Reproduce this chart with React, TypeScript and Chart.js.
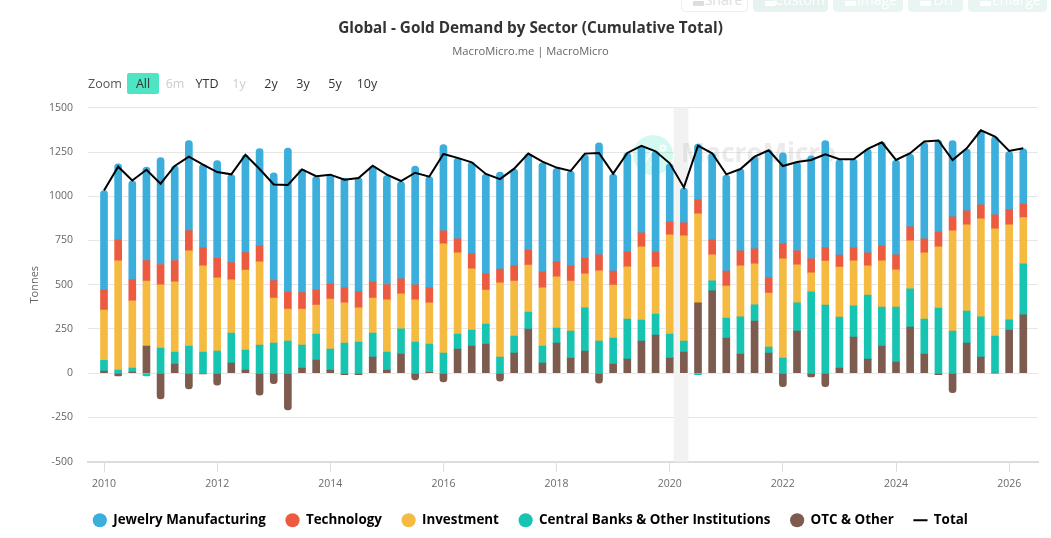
import React, { useEffect, useRef } from "react";
import { Chart, registerables } from "chart.js";

Chart.register(...registerables);

const FONT = '"Open Sans", "Noto Sans", sans-serif';

// quarter positions on the time axis, 2010 Q1 to 2026 Q2
const quarters = [
  2010, 2010.25, 2010.5, 2010.75, 2011, 2011.25, 2011.5, 2011.75,
  2012, 2012.25, 2012.5, 2012.75, 2013, 2013.25, 2013.5, 2013.75,
  2014, 2014.25, 2014.5, 2014.75, 2015, 2015.25, 2015.5, 2015.75,
  2016, 2016.25, 2016.5, 2016.75, 2017, 2017.25, 2017.5, 2017.75,
  2018, 2018.25, 2018.5, 2018.75, 2019, 2019.25, 2019.5, 2019.75,
  2020, 2020.25, 2020.5, 2020.75, 2021, 2021.25, 2021.5, 2021.75,
  2022, 2022.25, 2022.5, 2022.75, 2023, 2023.25, 2023.5, 2023.75,
  2024, 2024.25, 2024.5, 2024.75, 2025, 2025.25, 2025.5, 2025.75,
  2026, 2026.25,
];

const jewelry = [
  563, 429, 559, 529, 604, 535, 508, 472, 553, 497, 552, 550, 610, 814, 699, 642,
  618, 621, 646, 654, 616, 550, 672, 629, 487, 457, 518, 565, 548, 548, 544, 616,
  529, 536, 587, 633, 548, 559, 491, 569, 327, 196, 315, 489, 542, 463, 521, 723,
  514, 501, 582, 606, 538, 501, 586, 586, 536, 412, 544, 521, 431, 349, 419, 442,
  329, 312,
];
const technology = [
  113, 119, 119, 115, 115, 121, 115, 102, 110, 98, 98, 91, 98, 96, 93, 85,
  85, 85, 91, 91, 87, 85, 85, 85, 74, 79, 85, 91, 79, 85, 85, 91,
  85, 85, 87, 91, 79, 85, 79, 85, 74, 74, 79, 85, 85, 85, 85, 85,
  85, 79, 79, 74, 68, 74, 74, 85, 85, 79, 79, 83, 79, 79, 79, 79,
  85, 77,
];
const investment = [
  283, 618, 380, 368, 357, 397, 538, 487, 414, 300, 453, 470, 255, 181, 204, 164,
  283, 227, 193, 198, 295, 198, 238, 232, 618, 459, 346, 193, 419, 312, 266, 329,
  289, 283, 193, 397, 300, 295, 414, 266, 561, 595, 504, 147, 181, 289, 232, 306,
  561, 215, 108, 249, 283, 255, 164, 261, 210, 272, 374, 346, 567, 487, 555, 606,
  538, 261,
];
const centralBanks = [
  62, 17, 23, -15, 142, 68, 153, 119, 125, 170, 113, 159, 170, 181, 130, 147,
  119, 170, 176, 136, 102, 142, 176, 161, 113, 85, 91, 113, 91, 96, 96, 96,
  85, 153, 244, 181, 147, 227, 119, 119, 136, 62, -9, 57, 113, 210, 91, 34,
  85, 159, 459, 385, 289, 176, 363, 221, 312, 215, 198, 368, 238, 181, 227, 210,
  57, 289,
];
const otcOther = [
  11, -15, 6, 153, -145, 51, -89, -4, -68, 57, 17, -125, -60, -208, 28, 74,
  17, -8, -8, 91, 17, 108, -38, 4, -49, 136, 153, 164, -45, 113, 249, 57,
  170, 85, 125, -57, 51, 79, 181, 215, 85, 119, 397, 465, 198, 108, 295, 113,
  -77, 238, -21, -77, 28, 204, 79, 153, 62, 261, 108, -8, -111, 170, 91, 0,
  244, 329,
];
const total = [
  1033, 1167, 1089, 1150, 1071, 1171, 1224, 1179, 1137, 1124, 1235, 1154, 1067, 1064, 1152, 1113,
  1122, 1094, 1103, 1173, 1122, 1086, 1133, 1111, 1239, 1217, 1192, 1126, 1097, 1156, 1241, 1196,
  1162, 1143, 1241, 1245, 1128, 1245, 1285, 1254, 1186, 1050, 1286, 1243, 1124, 1154, 1224, 1260,
  1171, 1194, 1205, 1237, 1209, 1209, 1268, 1305, 1205, 1243, 1309, 1315, 1205, 1271, 1373, 1337,
  1256, 1271,
];

const yearTicks = [2010, 2012, 2014, 2016, 2018, 2020, 2022, 2024, 2026];
const tonneTicks = [-500, -250, 0, 250, 500, 750, 1000, 1250, 1500];
const shadedPeriod = [2020.07, 2020.33];

const rangeButtons = [
  { label: "All", left: 127, width: 32, color: "#333333", active: true },
  { label: "6m", left: 159, width: 32, color: "#cccccc" },
  { label: "YTD", left: 191, width: 32, color: "#333333" },
  { label: "1y", left: 223, width: 32, color: "#cccccc" },
  { label: "2y", left: 255, width: 32, color: "#333333" },
  { label: "3y", left: 287, width: 32, color: "#333333" },
  { label: "5y", left: 319, width: 32, color: "#333333" },
  { label: "10y", left: 351, width: 32, color: "#333333" },
];
const toolButtons = [
  { label: "Share", left: 681, width: 67, bg: "#ffffff", color: "#dddddd", border: "#eeeeee" },
  { label: "Custom", left: 753, width: 75, bg: "#e6f2ef", color: "#ffffff", border: "#e6f2ef" },
  { label: "Image", left: 833, width: 70, bg: "#e9f5f2", color: "#ffffff", border: "#e9f5f2" },
  { label: "DIY", left: 908, width: 55, bg: "#e9f5f2", color: "#ffffff", border: "#e9f5f2" },
  { label: "Enlarge", left: 968, width: 79, bg: "#e9f5f2", color: "#ffffff", border: "#e9f5f2" },
];

const toPoints = (values: number[]) => values.map((y, i) => ({ x: quarters[i], y }));

// grey band and the faint logo sit behind the bars
const backdropPlugin = {
  id: "backdrop",
  beforeDatasetsDraw(chart: any) {
    const { ctx, chartArea, scales } = chart;
    const x0 = scales.x.getPixelForValue(shadedPeriod[0]);
    const x1 = scales.x.getPixelForValue(shadedPeriod[1]);
    ctx.save();
    ctx.fillStyle = "#f2f2f2";
    ctx.fillRect(x0, chartArea.top, x1 - x0, chartArea.bottom - chartArea.top);

    ctx.fillStyle = "rgba(77,229,195,0.24)";
    ctx.beginPath();
    ctx.arc(653, 155, 20, 0, Math.PI * 2);
    ctx.fill();
    ctx.strokeStyle = "rgba(255,255,255,0.9)";
    ctx.lineWidth = 2;
    ctx.beginPath();
    ctx.moveTo(645, 162);
    ctx.lineTo(652, 151);
    ctx.moveTo(651, 165);
    ctx.lineTo(658, 154);
    ctx.stroke();
    ctx.beginPath();
    ctx.arc(663, 148, 2.5, 0, Math.PI * 2);
    ctx.stroke();

    ctx.fillStyle = "rgba(190,190,190,0.3)";
    ctx.font = `bold 26px ${FONT}`;
    ctx.textBaseline = "middle";
    ctx.fillText("MacroMicro", 681, 155);
    ctx.restore();
  },
};

export default function App() {
  const chartRef = useRef<HTMLCanvasElement | null>(null);

  useEffect(() => {
    if (!chartRef.current) return;
    const ctx = chartRef.current.getContext("2d");
    if (!ctx) return;

    const bar = (label: string, values: number[], color: string) => ({
      type: "bar" as const,
      label,
      data: toPoints(values),
      backgroundColor: color,
      borderWidth: 0,
      borderRadius: 3.5,
      barThickness: 7,
      stack: "demand",
      order: 1,
    });

    // stacked from the axis up, so the legend order is reversed below
    const chart = new Chart(ctx, {
      data: {
        datasets: [
          bar("OTC & Other", otcOther, "#7d5b4f"),
          bar("Central Banks & Other Institutions", centralBanks, "#17c4b2"),
          bar("Investment", investment, "#f5bb41"),
          bar("Technology", technology, "#ec5a40"),
          bar("Jewelry Manufacturing", jewelry, "#3caedc"),
          {
            type: "line" as const,
            label: "Total",
            data: toPoints(total),
            borderColor: "#000000",
            backgroundColor: "#000000",
            borderWidth: 2,
            pointRadius: 0,
            pointStyle: "line",
            tension: 0,
            order: 0,
          },
        ],
      },
      options: {
        responsive: false,
        animation: false,
        layout: { padding: { left: 23, right: 13, top: 0, bottom: 1 } },
        scales: {
          x: {
            type: "linear",
            offset: false,
            min: 2009.717,
            max: 2026.51,
            afterBuildTicks: (scale: any) => {
              scale.ticks = yearTicks.map((value) => ({ value }));
            },
            afterFit: (scale: any) => {
              scale.height = 32;
            },
            grid: { offset: false, drawOnChartArea: false, color: "#dcdcdc", tickLength: 10 },
            border: { color: "#dcdcdc", width: 2 },
            ticks: {
              color: "#6b6b6b",
              font: { family: FONT, size: 10.5 },
              padding: 6,
              maxRotation: 0,
              autoSkip: false,
              callback: (v: any) => String(v),
            },
          },
          y: {
            min: -500,
            max: 1500,
            afterBuildTicks: (scale: any) => {
              scale.ticks = tonneTicks.map((value) => ({ value }));
            },
            afterFit: (scale: any) => {
              scale.width = 65;
            },
            grid: { color: "#e6e6e6", drawTicks: false },
            border: { display: false },
            title: {
              display: true,
              text: "Tonnes",
              color: "#666666",
              font: { family: FONT, size: 11 },
              padding: { top: 5, bottom: 0 },
            },
            ticks: {
              color: "#666666",
              font: { family: FONT, size: 10.5 },
              padding: 15,
              callback: (v: any) => String(v),
            },
          },
        },
        plugins: {
          tooltip: { enabled: false },
          title: {
            display: true,
            text: "Global - Gold Demand by Sector (Cumulative Total)",
            color: "#333333",
            font: { family: FONT, size: 15.3, weight: "bold" },
            padding: { top: 19, bottom: 8 },
          },
          subtitle: {
            display: true,
            text: "MacroMicro.me | MacroMicro",
            color: "#666666",
            font: { family: FONT, size: 11.2, weight: "normal" },
            padding: { top: 0, bottom: 49 },
          },
          legend: {
            position: "bottom",
            labels: {
              usePointStyle: true,
              boxHeight: 10,
              boxWidth: 14,
              padding: 20,
              color: "#000000",
              font: { family: FONT, size: 13.4, weight: 700 },
              sort: (a: any, b: any) => {
                const rank = (i: number) => (i === 5 ? 5 : 4 - i);
                return rank(a.datasetIndex) - rank(b.datasetIndex);
              },
            },
          },
        },
      },
      plugins: [backdropPlugin],
    } as any);

    return () => {
      chart.destroy();
    };
  }, []);

  return (
    <div style={{ position: "absolute", left: 0, top: 0, width: 1051, height: 538, overflow: "hidden", background: "#fff", fontFamily: FONT }}>
      <canvas ref={chartRef} width={1051} height={538} style={{ display: "block" }} />
      {toolButtons.map((b) => (
        <div
          key={b.label}
          style={{
            position: "absolute",
            left: b.left,
            top: -14,
            width: b.width,
            height: 26,
            lineHeight: "26px",
            boxSizing: "border-box",
            textAlign: "center",
            fontSize: 14,
            color: b.color,
            background: b.bg,
            border: `1px solid ${b.border}`,
            borderRadius: 4,
            paddingLeft: 18,
          }}
        >
          <span style={{ position: "absolute", left: 11, top: 14, width: 11, height: 5, background: b.color, borderRadius: 1 }} />
          {b.label}
        </div>
      ))}
      <div style={{ position: "absolute", left: 88, top: 73, height: 21, lineHeight: "21px", fontSize: 12.5, color: "#555555" }}>Zoom</div>
      {rangeButtons.map((b) => (
        <div
          key={b.label}
          style={{
            position: "absolute",
            left: b.left,
            top: 73,
            width: b.width,
            height: 21,
            lineHeight: "21px",
            textAlign: "center",
            fontSize: 12.5,
            color: b.color,
            background: b.active ? "#4de5c3" : "transparent",
            borderRadius: 2,
          }}
        >
          {b.label}
        </div>
      ))}
    </div>
  );
}
